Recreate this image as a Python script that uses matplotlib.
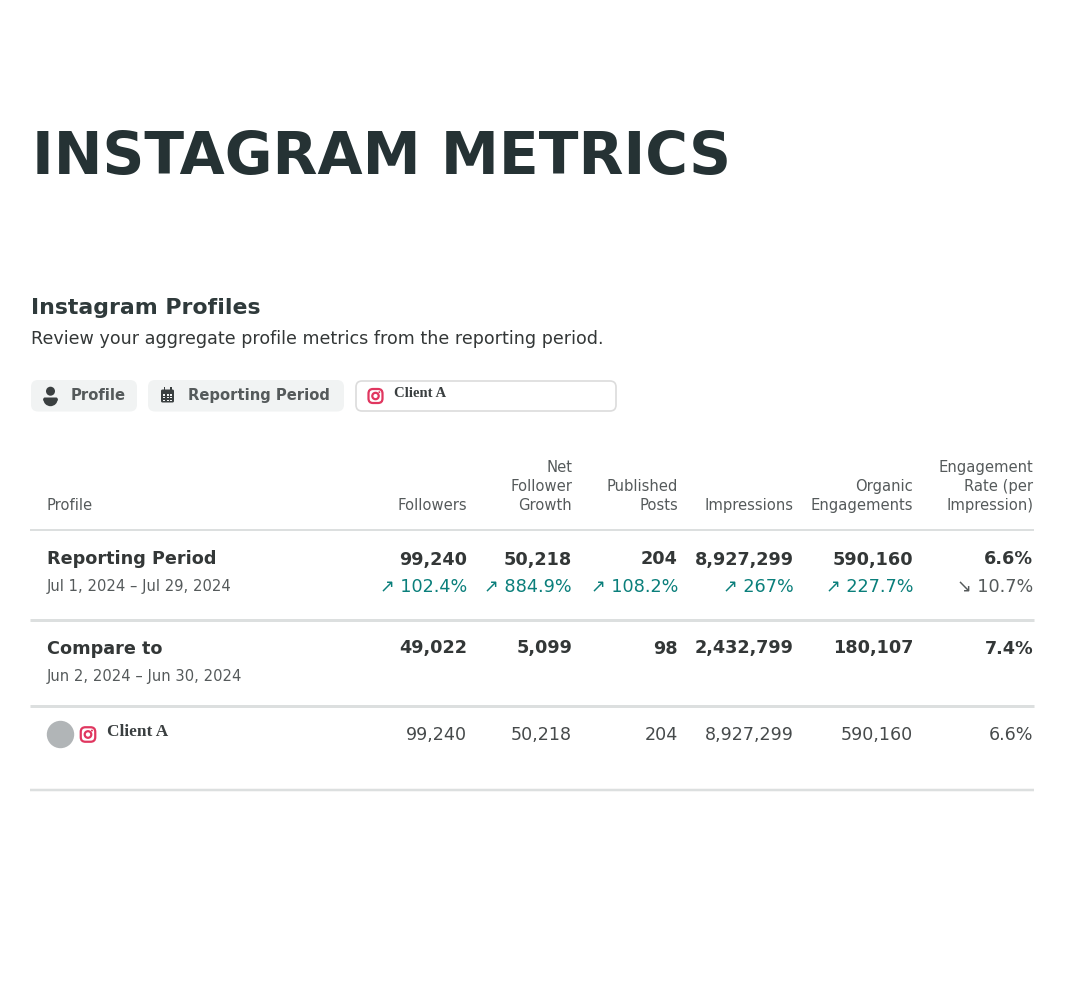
import matplotlib
matplotlib.use("Agg")
import matplotlib.pyplot as plt
from matplotlib.patches import FancyBboxPatch, Circle, Wedge, Rectangle

plt.rcParams['font.family'] = ['DejaVu Sans']

# ---------------- data ----------------
title = "INSTAGRAM METRICS"
section_title = "Instagram Profiles"
section_sub = "Review your aggregate profile metrics from the reporting period."
filter_labels = ["Profile", "Reporting Period"]
profile_name = "Client A"

columns = ["Followers", "Net\nFollower\nGrowth", "Published\nPosts", "Impressions",
           "Organic\nEngagements", "Engagement\nRate (per\nImpression)"]
reporting_label = "Reporting Period"
reporting_dates = "Jul 1, 2024 \u2013 Jul 29, 2024"
reporting_values = ["99,240", "50,218", "204", "8,927,299", "590,160", "6.6%"]
change_pct = ["102.4%", "884.9%", "108.2%", "267%", "227.7%", "10.7%"]
change_up = [True, True, True, True, True, False]
compare_label = "Compare to"
compare_dates = "Jun 2, 2024 \u2013 Jun 30, 2024"
compare_values = ["49,022", "5,099", "98", "2,432,799", "180,107", "7.4%"]
client_values = ["99,240", "50,218", "204", "8,927,299", "590,160", "6.6%"]

# ---------------- layout ----------------
W, H = 1078, 998
fig = plt.figure(figsize=(W / 100, H / 100), dpi=100)
ax = fig.add_axes([0, 0, 1, 1])
ax.set_xlim(0, W)
ax.set_ylim(H, 0)
ax.axis('off')

PT = 0.72  # px -> pt
DARK = '#333737'
GREY = '#555a5b'
TEAL = '#0a7f7b'
LINE = '#dcdfdf'
IG = '#e0365f'
ICON = '#3a3f40'


def txt(x, y, s, px, color=DARK, weight='normal', ha='left', family=None, va='baseline'):
    kw = {}
    if family:
        kw['family'] = family
    ax.text(x, y, s, fontsize=px * PT, color=color, fontweight=weight, ha=ha, va=va, **kw)


def insta_icon(cx, cy, size, lw=1.6):
    r = size / 2
    ax.add_patch(FancyBboxPatch((cx - r + 1, cy - r + 1), size - 2, size - 2,
                                boxstyle="round,pad=0,rounding_size=%f" % (size * 0.28),
                                fc='none', ec=IG, lw=lw))
    ax.add_patch(Circle((cx, cy), size * 0.2, fc='none', ec=IG, lw=lw))
    ax.add_patch(Circle((cx + size * 0.24, cy - size * 0.24), size * 0.06, fc=IG, ec='none'))


# Title
txt(31.5, 173.5, title, 58.3, color='#253234', weight='bold')

# Section heading
txt(31, 314, section_title, 22, color='#2f3a3b', weight='bold')
txt(31, 344, section_sub, 17.5, color=DARK)

# Filter pills
pills = [(31, 137, filter_labels[0], 70.5), (148, 344, filter_labels[1], 188.5)]
for x0, x1, lab, tx in pills:
    ax.add_patch(FancyBboxPatch((x0, 380), x1 - x0, 31.5,
                                boxstyle="round,pad=0,rounding_size=7",
                                fc='#f1f3f3', ec='none'))
    txt(tx, 400, lab, 14.8, color=GREY, weight='bold')

# person icon
ax.add_patch(Circle((50.5, 391.2), 4.5, fc=ICON, ec='none'))
ax.add_patch(FancyBboxPatch((43.3, 397.5), 14.4, 3.5, boxstyle="round,pad=0,rounding_size=1.5",
                            fc=ICON, ec='none'))
ax.add_patch(Wedge((50.5, 399), 7.2, 0, 180, fc=ICON, ec='none'))
# calendar icon
ax.add_patch(FancyBboxPatch((161, 389.5), 13, 13, boxstyle="round,pad=0,rounding_size=1.5",
                            fc=ICON, ec='none'))
ax.add_patch(Rectangle((163.5, 387.3), 1.8, 3.2, fc=ICON, ec='none'))
ax.add_patch(Rectangle((169.8, 387.3), 1.8, 3.2, fc=ICON, ec='none'))
for i in range(3):
    for j in range(3):
        ax.add_patch(Rectangle((163.2 + i * 3.3, 394.0 + j * 2.8), 2.0, 1.6,
                               fc='#f1f3f3', ec='none'))

# profile select box
ax.add_patch(FancyBboxPatch((356, 381), 260, 30, boxstyle="round,pad=0,rounding_size=6",
                            fc='white', ec='#dcdcdc', lw=1.2))
insta_icon(375.5, 396, 16)
txt(394.5, 397, profile_name, 14.8, color=ICON, weight='bold',
    family=['Liberation Serif', 'DejaVu Serif'])

# ---------------- table ----------------
col_right = [467, 572, 678, 794, 913, 1033]
head_base = [472, 491, 510]
txt(47, 510, "Profile", 14.8, color=GREY)
for xr, name in zip(col_right, columns):
    lines = name.split("\n")
    for k, line in enumerate(reversed(lines)):
        txt(xr, head_base[2 - k], line, 14.8, color=GREY, ha='right')

ax.plot([30, 1034], [530, 530], color=LINE, lw=2 * PT, solid_capstyle='butt')

# reporting row
txt(47, 564.5, reporting_label, 17.6, color=DARK, weight='bold')
txt(47, 591.5, reporting_dates, 14.8, color=GREY)
for xr, v, c, up in zip(col_right, reporting_values, change_pct, change_up):
    txt(xr, 564.5, v, 17.6, color=DARK, weight='bold', ha='right')
    arrow = "\u2197" if up else "\u2198"
    txt(xr, 592, arrow + " " + c, 17.6, color=TEAL if up else GREY, ha='right')

ax.plot([30, 1034], [620, 620], color=LINE, lw=3 * PT, solid_capstyle='butt')

# compare row
txt(47, 653.5, compare_label, 17.6, color=DARK, weight='bold')
txt(47, 681, compare_dates, 14.8, color=GREY)
for xr, v in zip(col_right, compare_values):
    txt(xr, 653.5, v, 17.6, color=DARK, weight='bold', ha='right')

ax.plot([30, 1034], [706, 706], color=LINE, lw=3 * PT, solid_capstyle='butt')

# client row
ax.add_patch(Circle((60.5, 734.5), 13.7, fc='#b1b5b7', ec='none'))
insta_icon(88, 734.5, 16.5)
txt(107, 736.5, profile_name, 17.3, color=ICON, weight='bold',
    family=['Liberation Serif', 'DejaVu Serif'])
for xr, v in zip(col_right, client_values):
    txt(xr, 740, v, 17.5, color='#464a4b', ha='right')

ax.plot([30, 1034], [789.5, 789.5], color=LINE, lw=2.5 * PT, solid_capstyle='butt')

fig.savefig("out.png", dpi=100, facecolor='white')
